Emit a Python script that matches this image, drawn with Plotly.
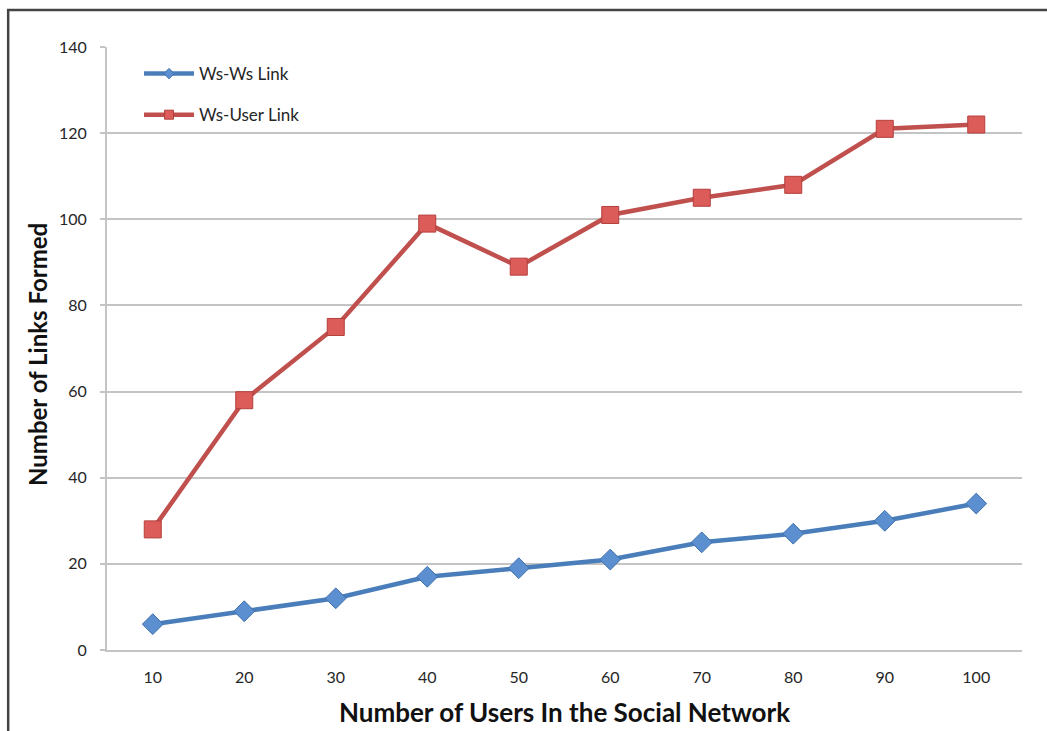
import plotly.graph_objects as go

# Network size (number of users) and links formed for each link type
users = ["10", "20", "30", "40", "50", "60", "70", "80", "90", "100"]
ws_ws_links = [6, 9, 12, 17, 19, 21, 25, 27, 30, 34]
ws_user_links = [28, 58, 75, 99, 89, 101, 105, 108, 121, 122]
y_ticks = [0, 20, 40, 60, 80, 100, 120, 140]

FONT = "Lato, 'Open Sans', sans-serif"
GRID = "#c4c4c4"
TEXT = "#262626"

series = [
    dict(name="Ws-Ws Link", values=ws_ws_links, group="a",
         line="#4a7ebb", fill="#5b8fd0", edge="#3f70ad",
         symbol="diamond", size=16, legend_size=8),
    dict(name="Ws-User Link", values=ws_user_links, group="b",
         line="#c0504d", fill="#dc5c5a", edge="#b23f3c",
         symbol="square", size=17, legend_size=9),
]

fig = go.Figure()

for s in series:
    # the data series itself
    fig.add_trace(go.Scatter(
        x=users, y=s["values"], name=s["name"],
        mode="lines+markers", showlegend=False, legendgroup=s["group"],
        line=dict(color=s["line"], width=4.5),
        marker=dict(symbol=s["symbol"], size=s["size"], color=s["fill"],
                    line=dict(color=s["edge"], width=1)),
    ))
    # legend key with a smaller marker on the line sample
    fig.add_trace(go.Scatter(
        x=[None], y=[None], name=s["name"],
        mode="lines+markers", legendgroup=s["group"],
        line=dict(color=s["line"], width=4.5),
        marker=dict(symbol=s["symbol"], size=s["legend_size"],
                    color=s["fill"], line=dict(color=s["edge"], width=1)),
    ))

fig.update_layout(
    width=1047, height=731,
    margin=dict(l=107, r=25, t=47, b=81),
    paper_bgcolor="white", plot_bgcolor="white",
    font=dict(family=FONT, color=TEXT, size=16),
    showlegend=True,
    legend=dict(
        x=0.035, y=0.985, xanchor="left", yanchor="top",
        bgcolor="rgba(0,0,0,0)", itemwidth=50,
        traceorder="grouped", tracegroupgap=16,
        font=dict(family=FONT, size=17, color=TEXT),
    ),
    xaxis=dict(
        type="category", range=[-0.5, 9.5],
        showgrid=False, showline=True, linecolor=GRID, linewidth=2,
        ticks="", ticklabelstandoff=12,
        tickfont=dict(family=FONT, size=16, color=TEXT),
        zeroline=False,
    ),
    yaxis=dict(
        range=[0, 140], tickvals=y_ticks,
        showgrid=True, gridcolor=GRID, gridwidth=2,
        showline=True, linecolor=GRID, linewidth=2,
        ticks="outside", ticklen=5, tickcolor=GRID, tickwidth=2,
        ticklabelstandoff=10,
        tickfont=dict(family=FONT, size=16, color=TEXT),
        zeroline=False,
    ),
    annotations=[
        dict(text="<b>Number of Users In the Social Network</b>",
             xref="paper", yref="paper", x=0.5, y=-0.103,
             xanchor="center", yanchor="middle", showarrow=False,
             font=dict(family=FONT, size=26, color="#111111")),
        dict(text="<b>Number of Links Formed</b>",
             xref="paper", yref="paper", x=-0.076, y=0.49,
             xanchor="center", yanchor="middle", showarrow=False,
             textangle=-90,
             font=dict(family=FONT, size=24, color="#111111")),
    ],
    shapes=[
        # outer frame around the chart
        dict(type="rect", xref="paper", yref="paper",
             x0=-0.108, x1=1.2, y0=-0.3, y1=1.0614,
             line=dict(color="#444444", width=2.5), layer="below"),
    ],
)

fig.write_html("out.html")
